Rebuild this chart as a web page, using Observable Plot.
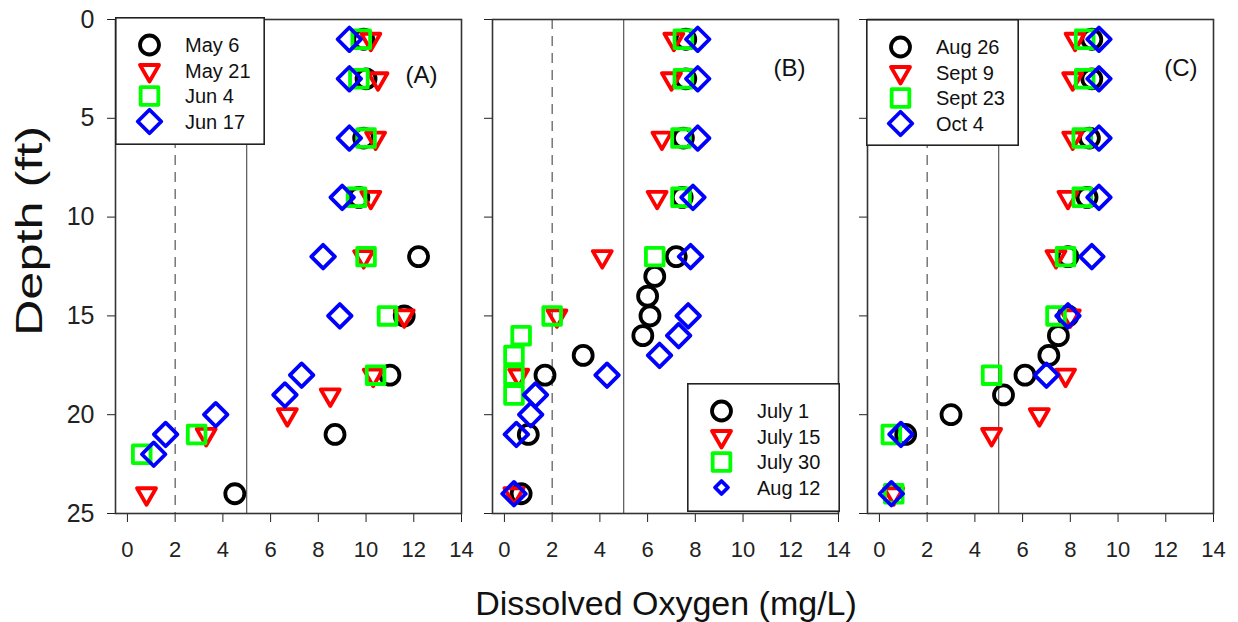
<!DOCTYPE html>
<html>
<head>
<meta charset="utf-8">
<script src="https://cdn.jsdelivr.net/npm/d3@7"></script>
<script src="https://cdn.jsdelivr.net/npm/@observablehq/plot@0.6"></script>
<style>
  body { margin: 0; background: #fff; font-family: "Liberation Sans", Arial, sans-serif; }
  #chart { position: relative; width: 1238px; height: 622px; overflow: hidden; background: #fff; }
  .panel { position: absolute; top: 0; }
  .legend { position: absolute; }
  .xtitle { position: absolute; left: 666px; top: 603px; transform: translate(-50%, -50%); font-size: 34px; white-space: nowrap; color: #111; }
  .ytitle { position: absolute; left: 30px; top: 231px; transform: translate(-50%, -50%) rotate(-90deg) scale(1.4, 1); font-size: 36px; white-space: nowrap; color: #111; }
</style>
</head>
<body>
<div id="chart"></div>
<script>
// Axis ticks
const xTicks = [0, 2, 4, 6, 8, 10, 12, 14];
const yTicks = [0, 5, 10, 15, 20, 25];

// DO reference levels (mg/L)
const dashedLevel = [2];
const solidLevel = [5];

// Panel A
const may6Depth = [1, 3, 6, 9, 12, 15, 18, 21, 24];
const may6DO    = [9.9, 10.0, 9.9, 9.7, 12.2, 11.6, 11.0, 8.7, 4.5];
const may21Depth = [1, 3, 6, 9, 12, 15, 18, 19, 20, 21, 24];
const may21DO    = [10.2, 10.5, 10.4, 10.2, 9.9, 11.6, 10.3, 8.5, 6.7, 3.3, 0.8];
const jun4Depth = [1, 3, 6, 9, 12, 15, 18, 21, 22];
const jun4DO    = [9.8, 9.7, 10.0, 9.6, 10.0, 10.9, 10.4, 2.9, 0.6];
const jun17Depth = [1, 3, 6, 9, 12, 15, 18, 19, 20, 21, 22];
const jun17DO    = [9.3, 9.3, 9.3, 9.0, 8.2, 8.9, 7.3, 6.6, 3.7, 1.6, 1.1];

// Panel B
const jul1Depth = [1, 3, 6, 9, 12, 13, 14, 15, 16, 17, 18, 21, 24];
const jul1DO    = [7.6, 7.6, 7.5, 7.45, 7.2, 6.3, 6.0, 6.1, 5.8, 3.3, 1.7, 1.0, 0.7];
const jul15Depth = [1, 3, 6, 9, 12, 15, 18, 24];
const jul15DO    = [7.1, 7.0, 6.6, 6.4, 4.1, 2.2, 0.6, 0.4];
const jul30Depth = [1, 3, 6, 9, 12, 15, 16, 17, 18, 19];
const jul30DO    = [7.5, 7.5, 7.4, 7.4, 6.3, 2.0, 0.7, 0.4, 0.4, 0.4];
const aug12Depth = [1, 3, 6, 9, 12, 15, 16, 17, 18, 19, 20, 21, 24];
const aug12DO    = [8.1, 8.1, 8.1, 7.9, 7.8, 7.7, 7.3, 6.5, 4.3, 1.3, 1.1, 0.5, 0.4];

// Panel C
const aug26Depth = [1, 3, 6, 9, 12, 15, 16, 17, 18, 19, 20, 21];
const aug26DO    = [8.9, 8.9, 8.8, 8.7, 7.9, 7.9, 7.5, 7.1, 6.1, 5.2, 3.0, 1.1];
const sep9Depth = [1, 3, 6, 9, 12, 15, 18, 20, 21, 24];
const sep9DO    = [8.2, 8.1, 8.1, 7.9, 7.4, 8.0, 7.8, 6.7, 4.7, 0.6];
const sep23Depth = [1, 3, 6, 9, 12, 15, 18, 21, 24];
const sep23DO    = [8.6, 8.6, 8.5, 8.5, 7.8, 7.4, 4.7, 0.5, 0.6];
const oct4Depth = [1, 3, 6, 9, 12, 15, 18, 21, 24];
const oct4DO    = [9.2, 9.2, 9.2, 9.2, 8.9, 7.9, 7.0, 0.9, 0.5];

// Open marker shapes; r is recovered from the area Plot passes in
const rOf = (size) => Math.sqrt(size / Math.PI);
const symCircle = { draw(c, size) { const r = rOf(size); c.moveTo(r, 0); c.arc(0, 0, r, 0, 2 * Math.PI); c.closePath(); } };
const symTriDown = { draw(c, size) { const r = rOf(size); const hw = r * 1.0, top = -r * 0.58, bot = r * 1.16;
  c.moveTo(-hw, top); c.lineTo(hw, top); c.lineTo(0, bot); c.closePath(); } };
const symSquare = { draw(c, size) { const s = rOf(size) * 0.93; c.moveTo(-s, -s); c.lineTo(s, -s); c.lineTo(s, s); c.lineTo(-s, s); c.closePath(); } };
const symDiamond = { draw(c, size) { const d = rOf(size) * 1.24; c.moveTo(0, -d); c.lineTo(d, 0); c.lineTo(0, d); c.lineTo(-d, 0); c.closePath(); } };

const seriesStyle = [
  { color: "#000000", symbol: symCircle },
  { color: "#ff0000", symbol: symTriDown },
  { color: "#00ff00", symbol: symSquare },
  { color: "#0000ff", symbol: symDiamond }
];
const R = 9.5, SW = 3.8;

const panels = [
  { tag: "(A)", left: 0, showY: true, tagDx: -24, tagDy: 56,
    legend: { x: 115, y: 17, w: 150, h: 128, scale: [1, 1, 1, 1] },
    series: [
      { name: "May 6", depth: may6Depth, value: may6DO },
      { name: "May 21", depth: may21Depth, value: may21DO },
      { name: "Jun 4", depth: jun4Depth, value: jun4DO },
      { name: "Jun 17", depth: jun17Depth, value: jun17DO }
    ] },
  { tag: "(B)", left: 377, showY: false, tagDx: -33, tagDy: 49,
    legend: { x: 687, y: 383, w: 153, h: 129, scale: [1, 1, 1, 0.55] },
    series: [
      { name: "July 1", depth: jul1Depth, value: jul1DO },
      { name: "July 15", depth: jul15Depth, value: jul15DO },
      { name: "July 30", depth: jul30Depth, value: jul30DO },
      { name: "Aug 12", depth: aug12Depth, value: aug12DO }
    ] },
  { tag: "(C)", left: 752, showY: false, tagDx: -16, tagDy: 49,
    legend: { x: 866, y: 19, w: 153, h: 127, scale: [1, 1, 1, 1] },
    series: [
      { name: "Aug 26", depth: aug26Depth, value: aug26DO },
      { name: "Sept 9", depth: sep9Depth, value: sep9DO },
      { name: "Sept 23", depth: sep23Depth, value: sep23DO },
      { name: "Oct 4", depth: oct4Depth, value: oct4DO }
    ] }
];

const chart = document.getElementById("chart");
const FONT = "Liberation Sans, Arial, sans-serif";

for (const p of panels) {
  const dotMarks = p.series.map((s, k) => {
    const rows = s.depth.map((d, i) => ({ depth: d, DO: s.value[i] }));
    const st = seriesStyle[k];
    return Plot.dot(rows, { x: "DO", y: "depth", r: R, symbol: st.symbol, stroke: st.color,
      strokeWidth: SW, fill: "none", strokeLinejoin: "round" });
  });

  const svg = Plot.plot({
    width: 476, height: 622,
    marginLeft: 115, marginRight: 15, marginTop: 19, marginBottom: 109,
    x: { domain: [-0.5, 14], ticks: xTicks, tickSize: 9, tickPadding: 19, label: null },
    y: { domain: [0, 25], reverse: true, ticks: yTicks, tickSize: 8, tickPadding: 13, label: null,
         tickFormat: p.showY ? (d) => String(d) : () => "" },
    style: { background: "transparent", fontFamily: FONT, fontSize: "22px", color: "#222", overflow: "visible" },
    marks: [
      Plot.ruleX(dashedLevel, { stroke: "#333", strokeWidth: 1, strokeDasharray: "10,7" }),
      Plot.ruleX(solidLevel, { stroke: "#333", strokeWidth: 1 }),
      ...dotMarks,
      Plot.frame({ stroke: "#333", strokeWidth: 1.6 }),
      Plot.text([p.tag], { frameAnchor: "top-right", textAnchor: "end", lineAnchor: "middle",
        dx: p.tagDx, dy: p.tagDy, fontSize: 24, fill: "#111" })
    ]
  });
  svg.classList.add("panel");
  svg.style.left = p.left + "px";
  d3.select(svg).selectAll('g[aria-label^="y-axis"] text').attr("font-size", 25);
  chart.appendChild(svg);

  // Legend box with the four dates
  const L = p.legend;
  const lg = d3.select(chart).append("svg").attr("class", "legend")
    .style("left", L.x + "px").style("top", L.y + "px")
    .attr("width", L.w).attr("height", L.h);
  lg.append("rect").attr("x", 0.8).attr("y", 0.8).attr("width", L.w - 1.6).attr("height", L.h - 1.6)
    .attr("fill", "#fff").attr("stroke", "#222").attr("stroke-width", 1.6);
  p.series.forEach((s, k) => {
    const cy = 28 + k * 25.5;
    const st = seriesStyle[k];
    const rr = R * L.scale[k];
    const path = d3.path();
    st.symbol.draw(path, rr * rr * Math.PI);
    lg.append("path").attr("d", path.toString()).attr("transform", `translate(34.5,${cy})`)
      .attr("fill", "none").attr("stroke", st.color).attr("stroke-width", SW).attr("stroke-linejoin", "round");
    lg.append("text").attr("x", 70).attr("y", cy).attr("dominant-baseline", "central")
      .attr("font-family", FONT).attr("font-size", 20).attr("fill", "#111").text(s.name);
  });
}

const xt = document.createElement("div");
xt.className = "xtitle";
xt.textContent = "Dissolved Oxygen (mg/L)";
chart.appendChild(xt);
const yt = document.createElement("div");
yt.className = "ytitle";
yt.textContent = "Depth (ft)";
chart.appendChild(yt);
</script>
</body>
</html>
